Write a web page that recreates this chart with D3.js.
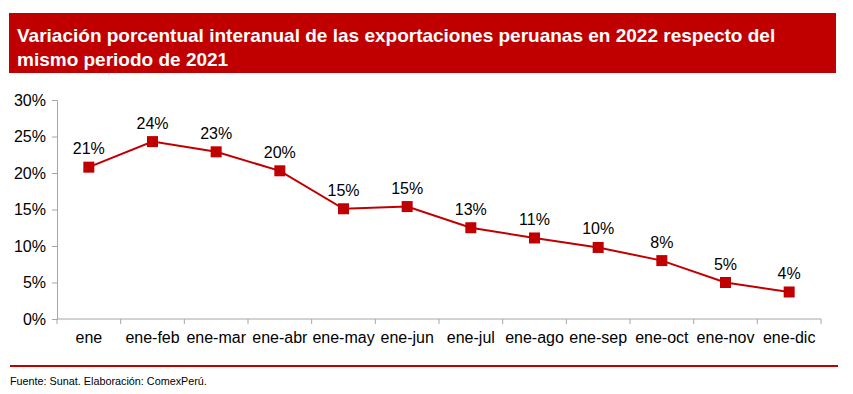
<!DOCTYPE html>
<html>
<head>
<meta charset="utf-8">
<script src="https://cdn.jsdelivr.net/npm/d3@7"></script>
<style>
  body { margin: 0; background: #fff; }
  svg { display: block; }
</style>
</head>
<body>
<svg id="chart" width="853" height="394"></svg>
<script>
const categories = ["ene","ene-feb","ene-mar","ene-abr","ene-may","ene-jun","ene-jul","ene-ago","ene-sep","ene-oct","ene-nov","ene-dic"];
const values = [20.8, 24.3, 22.9, 20.3, 15.1, 15.4, 12.5, 11.1, 9.8, 8.0, 5.0, 3.7];
const yTicks = [0, 5, 10, 15, 20, 25, 30];
const titleLines = ["Variación porcentual interanual de las exportaciones peruanas en 2022 respecto del", "mismo periodo de 2021"];
const footer = "Fuente: Sunat. Elaboración: ComexPerú.";

const red = "#C00000";
const axisColor = "#A6A6A6";
const font = "'Liberation Sans', Arial, sans-serif";

const svg = d3.select("#chart");

// Title box
svg.append("rect").attr("x", 9).attr("y", 13).attr("width", 827).attr("height", 60).attr("fill", red);
svg.append("g").selectAll("text").data(titleLines).join("text")
  .attr("x", 17).attr("y", (d, i) => 42 + i * 24)
  .attr("fill", "#fff").attr("font-family", font).attr("font-weight", "bold").attr("font-size", 19)
  .text(d => d);

const x = d3.scaleBand().domain(categories).range([57, 821]);
const y = d3.scaleLinear().domain([0, 30]).range([319, 100]);

// Y axis
const yAxis = svg.append("g").attr("transform", "translate(57,0)")
  .call(d3.axisLeft(y).tickValues(yTicks).tickSize(5).tickPadding(6).tickFormat(d => d + "%"));
yAxis.selectAll("path, line").attr("stroke", axisColor);
yAxis.selectAll("text").attr("font-family", font).attr("font-size", 16).attr("fill", "#000");

// X axis
const xAxis = svg.append("g").attr("transform", "translate(0,319)")
  .call(d3.axisBottom(x).tickSize(0).tickPadding(13));
xAxis.select("path").attr("stroke", axisColor).attr("d", "M57,0H821");
xAxis.selectAll("text").attr("font-family", font).attr("font-size", 16).attr("fill", "#000");
// boundary ticks
svg.append("g").selectAll("line").data(d3.range(categories.length + 1)).join("line")
  .attr("x1", i => 57 + i * x.step()).attr("x2", i => 57 + i * x.step())
  .attr("y1", 319).attr("y2", 324).attr("stroke", axisColor);

const cx = d => x(d) + x.bandwidth() / 2;
const pts = categories.map((c, i) => ({c, v: values[i]}));

// Line
svg.append("path").datum(pts)
  .attr("fill", "none").attr("stroke", red).attr("stroke-width", 2)
  .attr("d", d3.line().x(d => cx(d.c)).y(d => y(d.v)));

// Markers
const ms = 11;
svg.append("g").selectAll("rect").data(pts).join("rect")
  .attr("x", d => cx(d.c) - ms / 2).attr("y", d => y(d.v) - ms / 2)
  .attr("width", ms).attr("height", ms).attr("fill", red);

// Labels
svg.append("g").selectAll("text").data(pts).join("text")
  .attr("x", d => cx(d.c)).attr("y", d => y(d.v) - 13)
  .attr("text-anchor", "middle").attr("font-family", font).attr("font-size", 16).attr("fill", "#000")
  .text(d => Math.round(d.v) + "%");

// Bottom rule and footer
svg.append("rect").attr("x", 10).attr("y", 365).attr("width", 828).attr("height", 2).attr("fill", red);
svg.append("text").attr("x", 10).attr("y", 385)
  .attr("font-family", "'Liberation Sans Narrow', 'Arial Narrow', " + font).attr("font-size", 10.8).attr("fill", "#000")
  .text(footer);
</script>
</body>
</html>
